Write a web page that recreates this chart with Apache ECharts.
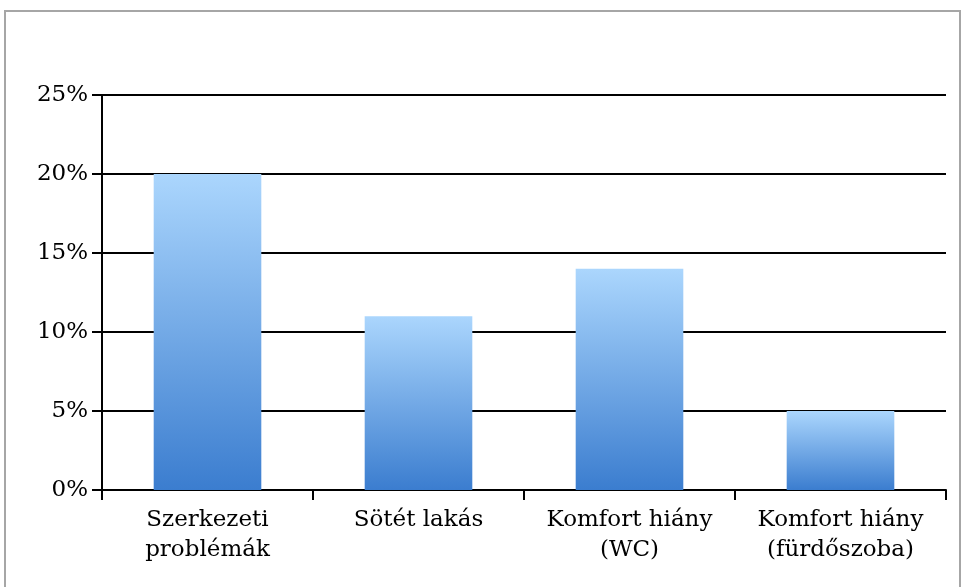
<!DOCTYPE html>
<html>
<head>
<meta charset="utf-8">
<style>
  html, body { margin: 0; padding: 0; background: #ffffff; }
  #chart { width: 961px; height: 587px; }
</style>
<script src="https://cdn.jsdelivr.net/npm/echarts@6/dist/echarts.min.js"></script>
</head>
<body>
<div id="chart"></div>
<script>
// Share of housing problems by type
const categories = ['Szerkezeti\nproblémák', 'Sötét lakás', 'Komfort hiány\n(WC)', 'Komfort hiány\n(fürdőszoba)'];
const shares = [20, 11, 14, 5];
const yTicks = [0, 5, 10, 15, 20, 25];

const chart = echarts.init(document.getElementById('chart'), null, { renderer: 'canvas' });
const font = '"DejaVu Serif", "Liberation Serif", serif';

chart.setOption({
  animation: false,
  backgroundColor: '#ffffff',
  graphic: [{
    type: 'rect',
    shape: { x: 5, y: 11, width: 955, height: 620 },
    style: { fill: 'none', stroke: '#a6a6a6', lineWidth: 2 },
    silent: true,
    z: 0
  }],
  grid: { left: 102, right: 15, top: 95, bottom: 97, containLabel: false },
  xAxis: {
    type: 'category',
    data: categories,
    axisLine: { show: true, lineStyle: { color: '#000', width: 2 } },
    axisTick: { show: true, length: 10, lineStyle: { color: '#000', width: 2 } },
    axisLabel: {
      color: '#000', fontFamily: font, fontSize: 23, lineHeight: 30, margin: 15, interval: 0
    },
    splitLine: { show: false }
  },
  yAxis: {
    type: 'value',
    min: yTicks[0],
    max: yTicks[yTicks.length - 1],
    interval: 5,
    axisLine: { show: true, lineStyle: { color: '#000', width: 2 } },
    axisTick: { show: true, length: 10, lineStyle: { color: '#000', width: 2 } },
    axisLabel: {
      color: '#000', fontFamily: font, fontSize: 23, margin: 14,
      formatter: v => v + '%'
    },
    splitLine: { show: true, lineStyle: { color: '#000', width: 2 } }
  },
  series: [{
    type: 'bar',
    data: shares,
    barWidth: '51%',
    itemStyle: {
      color: new echarts.graphic.LinearGradient(0, 0, 0, 1, [
        { offset: 0, color: '#abd6fd' },
        { offset: 1, color: '#3b7dcf' }
      ])
    },
    z: 3
  }]
});
</script>
</body>
</html>
